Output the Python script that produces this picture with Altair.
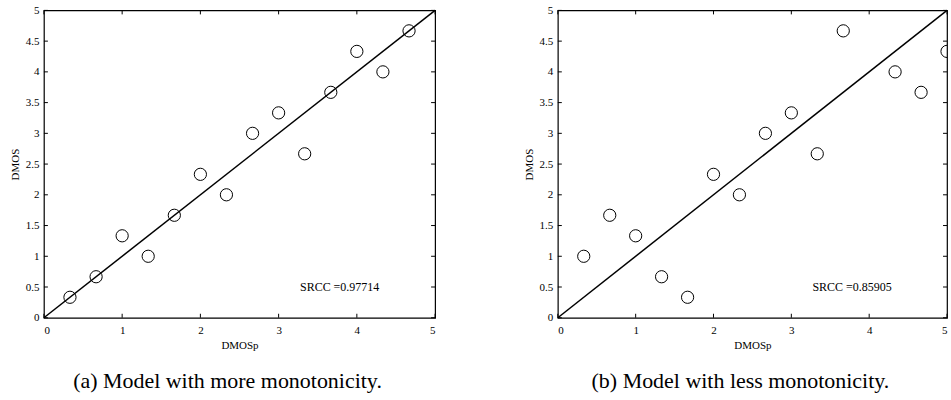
import altair as alt
import pandas as pd

# Predicted scores (DMOSp) and subjective scores (DMOS) for the two models
dmosp_a = [0.333, 0.667, 1.0, 1.333, 1.667, 2.0, 2.333, 2.667, 3.0, 3.333, 3.667, 4.0, 4.333, 4.667]
dmos_a = [0.333, 0.667, 1.333, 1.0, 1.667, 2.333, 2.0, 3.0, 3.333, 2.667, 3.667, 4.333, 4.0, 4.667]

dmosp_b = [0.333, 0.667, 1.0, 1.333, 1.667, 2.0, 2.333, 2.667, 3.0, 3.333, 3.667, 4.333, 4.667, 5.0]
dmos_b = [1.0, 1.667, 1.333, 0.667, 0.333, 2.333, 2.0, 3.0, 3.333, 2.667, 4.667, 4.0, 3.667, 4.333]

# Identity line end points
diag = [0, 5]

# Tick positions
x_ticks = [0, 1, 2, 3, 4, 5]
y_ticks = [0, 0.5, 1, 1.5, 2, 2.5, 3, 3.5, 4, 4.5, 5]

srcc_labels = ["SRCC =0.97714", "SRCC =0.85905"]
captions = ["(a) Model with more monotonicity.", "(b) Model with less monotonicity."]

SERIF = "Liberation Serif"
H = 308
TICK = 4


def panel(xs, ys, srcc, caption, W):
    xscale = alt.Scale(domain=[0, 5], nice=False, zero=False)
    yscale = alt.Scale(domain=[0, 5], nice=False, zero=False)
    xaxis = alt.Axis(values=x_ticks, title="DMOSp", format="~g")
    yaxis = alt.Axis(values=y_ticks, title="DMOS", format="~g")

    def X(**kw):
        return alt.X("DMOSp:Q", scale=xscale, axis=xaxis, **kw)

    def Y(**kw):
        return alt.Y("DMOS:Q", scale=yscale, axis=yaxis, **kw)

    pts = pd.DataFrame({"DMOSp": xs, "DMOS": ys})
    line_df = pd.DataFrame({"DMOSp": diag, "DMOS": diag})
    xt = pd.DataFrame({"DMOSp": x_ticks})
    yt = pd.DataFrame({"DMOS": y_ticks})

    line = alt.Chart(line_df).mark_line(color="black", strokeWidth=1.5).encode(x=X(), y=Y())
    points = alt.Chart(pts).mark_point(
        shape="circle", filled=False, color="black", size=150, strokeWidth=1, opacity=1, clip=True
    ).encode(x=X(), y=Y())

    # inward ticks on all four sides of the box
    t_bottom = alt.Chart(xt).mark_rule(color="black", strokeWidth=1).encode(
        x=X(), y=alt.value(H), y2=alt.value(H - TICK))
    t_top = alt.Chart(xt).mark_rule(color="black", strokeWidth=1).encode(
        x=X(), y=alt.value(0), y2=alt.value(TICK))
    t_left = alt.Chart(yt).mark_rule(color="black", strokeWidth=1).encode(
        y=Y(), x=alt.value(0), x2=alt.value(TICK))
    t_right = alt.Chart(yt).mark_rule(color="black", strokeWidth=1).encode(
        y=Y(), x=alt.value(W - TICK), x2=alt.value(W))

    label = alt.Chart(pd.DataFrame({"DMOSp": [3.78], "DMOS": [0.5]})).mark_text(
        font=SERIF, fontSize=12, color="black", align="center", baseline="middle"
    ).encode(x=X(), y=Y(), text=alt.value(srcc))

    return alt.layer(line, points, t_bottom, t_top, t_left, t_right, label).properties(
        width=W,
        height=H,
        title=alt.TitleParams(
            caption, orient="bottom", font=SERIF, fontSize=22, fontWeight="normal",
            color="black", offset=20, anchor="middle", dx=-12,
        ),
    )


chart = alt.hconcat(
    panel(dmosp_a, dmos_a, srcc_labels[0], captions[0], 392),
    panel(dmosp_b, dmos_b, srcc_labels[1], captions[1], 390),
    spacing=123,
    bounds="flush",
).properties(
    padding={"left": 8, "top": 3, "right": 0, "bottom": 0},
    background="white",
).configure_view(
    stroke="black", strokeWidth=1.2
).configure_axis(
    grid=False, ticks=False, tickSize=0, domain=False,
    labelFont=SERIF, labelFontSize=11, labelColor="black",
    titleFont=SERIF, titleFontSize=11, titleColor="black", titleFontWeight="normal",
).configure_axisX(
    labelPadding=7, titlePadding=4,
).configure_axisY(
    labelPadding=5, titlePadding=5,
)

chart.save("out.html", embed_options={"renderer": "svg", "actions": False})
